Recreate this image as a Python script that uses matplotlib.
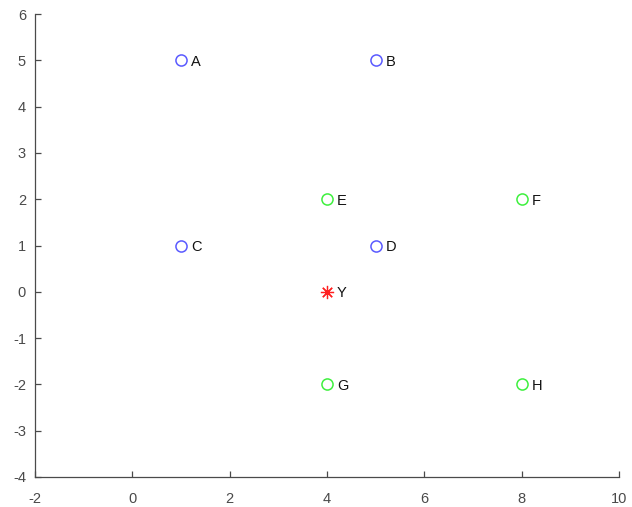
import matplotlib
matplotlib.use('Agg')
import matplotlib.pyplot as plt

plt.rcParams['font.family'] = ['Liberation Sans', 'DejaVu Sans']
plt.rcParams['axes.unicode_minus'] = False

# class 1 points (blue), class 2 points (green), query point (red)
blue_x = [1, 5, 1, 5]
blue_y = [5, 5, 1, 1]
blue_names = ['A', 'B', 'C', 'D']
green_x = [4, 8, 4, 8]
green_y = [2, 2, -2, -2]
green_names = ['E', 'F', 'G', 'H']
query_x = [4]
query_y = [0]
query_names = ['Y']

axis_col = '#4a4a4a'

fig = plt.figure(figsize=(6.32, 5.07), dpi=100)
ax = fig.add_axes([0.0554, 0.0592, 0.924, 0.913])

ax.plot(blue_x, blue_y, 'o', mfc='none', mec='#5a5aff', ms=8, mew=1.1, ls='none')
ax.plot(green_x, green_y, 'o', mfc='none', mec='#3ef03e', ms=8, mew=1.1, ls='none')
# asterisk marker: 8 spokes
ax.plot(query_x, query_y, marker=(8, 2, 0), color='#ff2020', ms=9.5, mew=0.9, ls='none')

for xs, ys, names in [(blue_x, blue_y, blue_names), (green_x, green_y, green_names),
                      (query_x, query_y, query_names)]:
    for x, y, n in zip(xs, ys, names):
        ax.annotate(n, (x, y), xytext=(7.2, -1), textcoords='offset points',
                    va='center', ha='left', fontsize=10.5, color='#111111')

ax.set_xlim(-2, 10)
ax.set_ylim(-4, 6)
ax.set_xticks(range(-2, 11, 2))
ax.set_yticks(range(-4, 7, 1))
ax.spines['top'].set_visible(False)
ax.spines['right'].set_visible(False)
for s in ['left', 'bottom']:
    ax.spines[s].set_color(axis_col)
    ax.spines[s].set_linewidth(0.9)
ax.tick_params(direction='in', length=4, width=0.9, color=axis_col,
               labelcolor=axis_col, labelsize=10.5)
ax.tick_params(axis='x', pad=10.5)
ax.tick_params(axis='y', pad=6.5)

fig.savefig('out.png', dpi=100)
